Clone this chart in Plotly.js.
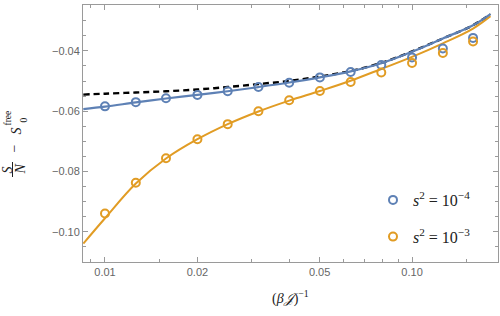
<!DOCTYPE html>
<html>
<head>
<meta charset="utf-8">
<script src="https://cdn.plot.ly/plotly-3.0.1.min.js"></script>
<style>html,body{margin:0;padding:0;background:#fff;}#chart{width:500px;height:316px;}</style>
</head>
<body>
<div id="chart"></div>
<script>
// Data points (x = (beta J)^-1)
const xPts = [0.01, 0.0126, 0.0158, 0.02, 0.0251, 0.0316, 0.0398, 0.0501, 0.0631, 0.0794, 0.1, 0.126, 0.158];
const blueMarks = [-0.0584, -0.0570, -0.0557, -0.0546, -0.0534, -0.0520, -0.0506, -0.0488, -0.0470, -0.0447, -0.0422, -0.0392, -0.0357];
const orangeMarks = [-0.0939, -0.0837, -0.0756, -0.0693, -0.0643, -0.0600, -0.0564, -0.0533, -0.0503, -0.0472, -0.0440, -0.0407, -0.0369];

// Curves
const xLine = [0.0085, 0.01, 0.0126, 0.0158, 0.02, 0.0251, 0.0316, 0.0398, 0.0501, 0.0631, 0.0794, 0.1, 0.126, 0.158, 0.18];
const blueLine = [-0.0593, -0.0585, -0.0571, -0.0558, -0.0546, -0.0534, -0.0520, -0.0505, -0.0488, -0.0468, -0.0441, -0.0403, -0.0359, -0.0315, -0.0278];
const orangeLine = [-0.1039, -0.0955, -0.0840, -0.0757, -0.0693, -0.0643, -0.0601, -0.0565, -0.0533, -0.0499, -0.0460, -0.0420, -0.0375, -0.0326, -0.0285];
const dashLine = [-0.0545, -0.0542, -0.0538, -0.0534, -0.0528, -0.0520, -0.0510, -0.0500, -0.0485, -0.0467, -0.0440, -0.0402, -0.0359, -0.0315, -0.0278];

// Tick labels
const xTickVals = [0.01, 0.02, 0.05, 0.1];
const xTickText = ['0.01', '0.02', '0.05', '0.10'];
const xMinorVals = [0.009, 0.015, 0.03, 0.04, 0.06, 0.07, 0.08, 0.09, 0.15];
const yTickVals = [-0.10, -0.08, -0.06, -0.04];
const yTickText = ['\u22120.10', '\u22120.08', '\u22120.06', '\u22120.04'];

const blue = '#5E81B5', orange = '#E19C24';
const frame = '#9a9a9a';

const traces = [
  {x: xLine, y: dashLine, mode: 'lines', line: {color: '#000', width: 2.4, dash: '6px,4px', shape: 'spline'}, showlegend: false, hoverinfo: 'skip'},
  {x: xLine, y: orangeLine, mode: 'lines', line: {color: orange, width: 2, shape: 'spline'}, showlegend: false},
  {x: xLine, y: blueLine, mode: 'lines', line: {color: blue, width: 2.2, shape: 'spline'}, showlegend: false},
  {x: xPts, y: blueMarks, mode: 'markers', name: '<i>s</i><sup>2</sup> = 10<sup>\u22124</sup>', legend: 'legend',
   marker: {symbol: 'circle-open', size: 8, color: blue, line: {width: 2, color: blue}}},
  {x: xPts, y: orangeMarks, mode: 'markers', name: '<i>s</i><sup>2</sup> = 10<sup>\u22123</sup>', legend: 'legend2',
   marker: {symbol: 'circle-open', size: 8, color: orange, line: {width: 2, color: orange}}}
];

const L = 83, R = 498, T = 5, B = 262;
const px = v => (v - L) / (R - L);
const py = v => (B - v) / (B - T);
const serif = 'Liberation Serif, Times New Roman, serif';
const titleFont = {family: serif, size: 14, color: '#222'};
const big = {family: serif, size: 14, color: '#222'};
const small = {family: serif, size: 9.5, color: '#222'};

const layout = {
  width: 500, height: 316,
  margin: {l: L, r: 500 - R, t: T, b: 316 - B, pad: 0},
  paper_bgcolor: '#fff', plot_bgcolor: '#fff',
  font: {family: 'Liberation Sans, Arial, sans-serif', size: 11, color: '#666'},
  xaxis: {
    type: 'log', range: [Math.log10(0.00848), Math.log10(0.1905)],
    tickmode: 'array', tickvals: xTickVals, ticktext: xTickText,
    ticks: 'inside', ticklen: 5, tickcolor: frame, tickwidth: 1,
    minor: {tickmode: 'array', tickvals: xMinorVals, ticks: 'inside', ticklen: 3, tickcolor: frame, showgrid: false},
    showline: true, linecolor: frame, linewidth: 1, mirror: 'allticks',
    showgrid: false, zeroline: false, tickfont: {size: 11, color: '#666'}
  },
  yaxis: {
    range: [-0.1100, -0.0248],
    tickmode: 'array', tickvals: yTickVals, ticktext: yTickText,
    ticks: 'inside', ticklen: 5, tickcolor: frame, tickwidth: 1,
    minor: {dtick: 0.005, tick0: 0, ticks: 'inside', ticklen: 3, tickcolor: frame, showgrid: false},
    showline: true, linecolor: frame, linewidth: 1, mirror: 'allticks',
    showgrid: false, zeroline: false, tickfont: {size: 11, color: '#666'}
  },
  legend: {x: px(373), y: py(200), xanchor: 'left', yanchor: 'middle', bgcolor: 'rgba(0,0,0,0)',
           font: {family: serif, size: 16, color: '#222'}},
  legend2: {x: px(373), y: py(236.7), xanchor: 'left', yanchor: 'middle', bgcolor: 'rgba(0,0,0,0)',
           font: {family: serif, size: 16, color: '#222'}},
  shapes: [
    {type: 'line', xref: 'paper', yref: 'paper', x0: px(12.5), x1: px(12.5), y0: py(177), y1: py(162), line: {color: '#222', width: 1}}
  ],
  annotations: [
    {text: '(<i>\u03B2\uD835\uDCA5</i>)<sup>\u22121</sup>', xref: 'paper', yref: 'paper', x: 0.5, y: py(297), xanchor: 'center', yanchor: 'middle', showarrow: false, font: titleFont},
    {text: '<i>S</i>', xref: 'paper', yref: 'paper', x: px(7.5), y: py(170), textangle: -90, xanchor: 'center', yanchor: 'middle', showarrow: false, borderpad: 0, font: big},
    {text: '<i>N</i>', xref: 'paper', yref: 'paper', x: px(20), y: py(169.5), textangle: -90, xanchor: 'center', yanchor: 'middle', showarrow: false, borderpad: 0, font: big},
    {text: '\u2212', xref: 'paper', yref: 'paper', x: px(13.5), y: py(149), textangle: -90, xanchor: 'center', yanchor: 'middle', showarrow: false, borderpad: 0, font: big},
    {text: '<i>S</i>', xref: 'paper', yref: 'paper', x: px(15.5), y: py(131), textangle: -90, xanchor: 'center', yanchor: 'middle', showarrow: false, borderpad: 0, font: big},
    {text: '0', xref: 'paper', yref: 'paper', x: px(23.5), y: py(120), textangle: -90, xanchor: 'center', yanchor: 'middle', showarrow: false, borderpad: 0, font: small},
    {text: 'free', xref: 'paper', yref: 'paper', x: px(7), y: py(118.5), textangle: -90, xanchor: 'center', yanchor: 'middle', showarrow: false, borderpad: 0, font: small}
  ]
};

Plotly.newPlot('chart', traces, layout, {displayModeBar: false, staticPlot: true});
</script>
</body>
</html>
